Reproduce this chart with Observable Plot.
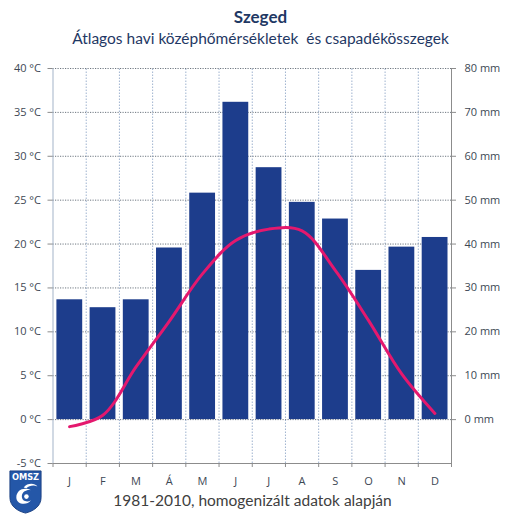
<!DOCTYPE html>
<html>
<head>
<meta charset="utf-8">
<script src="https://cdn.jsdelivr.net/npm/d3@7"></script>
<script src="https://cdn.jsdelivr.net/npm/@observablehq/plot@0.6"></script>
<style>
  body { margin: 0; background: #fff; }
  #wrap { position: relative; width: 505px; height: 514px; overflow: hidden; background: #fff; }
  .title { position: absolute; left: 0; width: 505px; text-align: center; font-family: Lato, "Open Sans", sans-serif; }
  #t1 { top: 6px; font-size: 17px; font-weight: bold; color: #1f3864; padding-left: 8px; }
  #t2 { top: 29px; font-size: 15.5px; color: #1f3864; padding-left: 8px; }
  #foot { top: 491px; font-size: 15.5px; color: #404040; }
  #chart { position: absolute; top: 50px; left: 0; }
  #logo { position: absolute; left: 8px; top: 470px; }
</style>
</head>
<body>
<div id="wrap">
  <div class="title" id="t1">Szeged</div>
  <div class="title" id="t2">Átlagos havi középhőmérsékletek&nbsp; és csapadékösszegek</div>
  <div id="chart"></div>
  <div class="title" id="foot">1981-2010, homogenizált adatok alapján</div>
  <svg id="logo" width="35" height="44" viewBox="0 0 36 48">
    <path d="M1,1 H35 V30 C35,40 26,45 18,47 C10,45 1,40 1,30 Z" fill="#2457a8" stroke="#1a3f80" stroke-width="1"/>
    <text x="18" y="11" text-anchor="middle" font-family="DejaVu Sans, sans-serif" font-weight="bold" font-size="9" fill="#fff">OMSZ</text>
    <path d="M8,30 C8,22 16,18 24,22 C20,21 14,23 14,29 C14,34 20,36 24,33 C20,39 8,38 8,30 Z" fill="#fff"/>
    <path d="M16,19 C20,14 28,14 31,18 C27,16 22,17 19,20 Z" fill="#fff"/>
    <circle cx="19" cy="29" r="2.5" fill="#fff"/>
  </svg>
</div>
<script>
const months = ["J", "F", "M", "Á", "M", "J", "J", "A", "S", "O", "N", "D"];
const precipitation = [27.3, 25.5, 27.3, 39.1, 51.6, 72.3, 57.4, 49.5, 45.7, 34.0, 39.3, 41.5]; // mm
const temperature = [-0.8, 0.5, 6.0, 11.2, 16.6, 20.4, 21.7, 21.5, 17.0, 11.3, 5.2, 0.7]; // °C
const tempTicks = [-5, 0, 5, 10, 15, 20, 25, 30, 35, 40];
const mmTicks = [0, 10, 20, 30, 40, 50, 60, 70, 80];
const mmPerDegree = 2; // right axis: 80 mm ↔ 40 °C

const data = months.map((m, i) => ({i, month: m, mm: precipitation[i], t: temperature[i]}));
const boundaries = d3.range(0, months.length + 1);

const tickColor = "#3d4854";
const font = "'Open Sans', sans-serif";

const chart = Plot.plot({
  width: 505,
  height: 440,
  marginTop: 18,
  marginBottom: 27,
  marginLeft: 52.5,
  marginRight: 54,
  style: {fontFamily: font, fontSize: "11px", color: tickColor, background: "transparent"},
  x: {type: "linear", domain: [0, months.length], label: null},
  y: {domain: [-5, 40], label: null},
  marks: [
    Plot.ruleX(boundaries.slice(1, -1), {y1: -5, y2: 40, stroke: "#9fb3cf", strokeDasharray: "1.5,1.5", strokeWidth: 1}),
    Plot.ruleY(tempTicks.filter(d => d >= 0), {x1: 0, x2: months.length, stroke: "#6e7780", strokeDasharray: "1.2,1.3", strokeWidth: 1}),
    Plot.ruleX([0], {y1: -5, y2: 40, stroke: "#a3b3c8", strokeWidth: 1}),
    Plot.ruleX([months.length], {y1: -5, y2: 40, stroke: "#8c8c8c", strokeWidth: 1}),
    Plot.ruleY([-5], {x1: 0, x2: months.length, stroke: "#8c8c8c", strokeWidth: 1}),
    Plot.rectY(data, {
      x1: d => d.i, x2: d => d.i + 1, y1: 0, y2: d => d.mm / mmPerDegree,
      insetLeft: 3.9, insetRight: 3.5, fill: "#1d3d8c",
      style: "filter: drop-shadow(0.8px 0.8px 0.8px rgba(40,60,110,0.35))"
    }),
    Plot.lineY(data, {x: d => d.i + 0.5, y: "t", curve: "catmull-rom", stroke: "#e4186e", strokeWidth: 3, strokeLinecap: "round"}),
    Plot.axisY({anchor: "left", ticks: tempTicks, tickSize: 5, tickPadding: 7, tickFormat: d => `${d} °C`, stroke: "#8c8c8c", fill: tickColor, label: null}),
    Plot.axisY({anchor: "right", ticks: mmTicks.map(v => v / mmPerDegree), tickSize: 4, tickPadding: 9, tickFormat: d => `${d * mmPerDegree} mm`, stroke: "#8c8c8c", fill: tickColor, label: null}),
    Plot.axisX({anchor: "bottom", ticks: boundaries, tickSize: 4, tickFormat: () => "", stroke: "#8c8c8c", label: null}),
    Plot.axisX({anchor: "bottom", ticks: boundaries.slice(0, -1).map(i => i + 0.5), tickSize: 0, tickPadding: 14, tickFormat: d => months[Math.floor(d)], fill: tickColor, fontSize: 11, label: null})
  ]
});
document.getElementById("chart").appendChild(chart);
</script>
</body>
</html>
